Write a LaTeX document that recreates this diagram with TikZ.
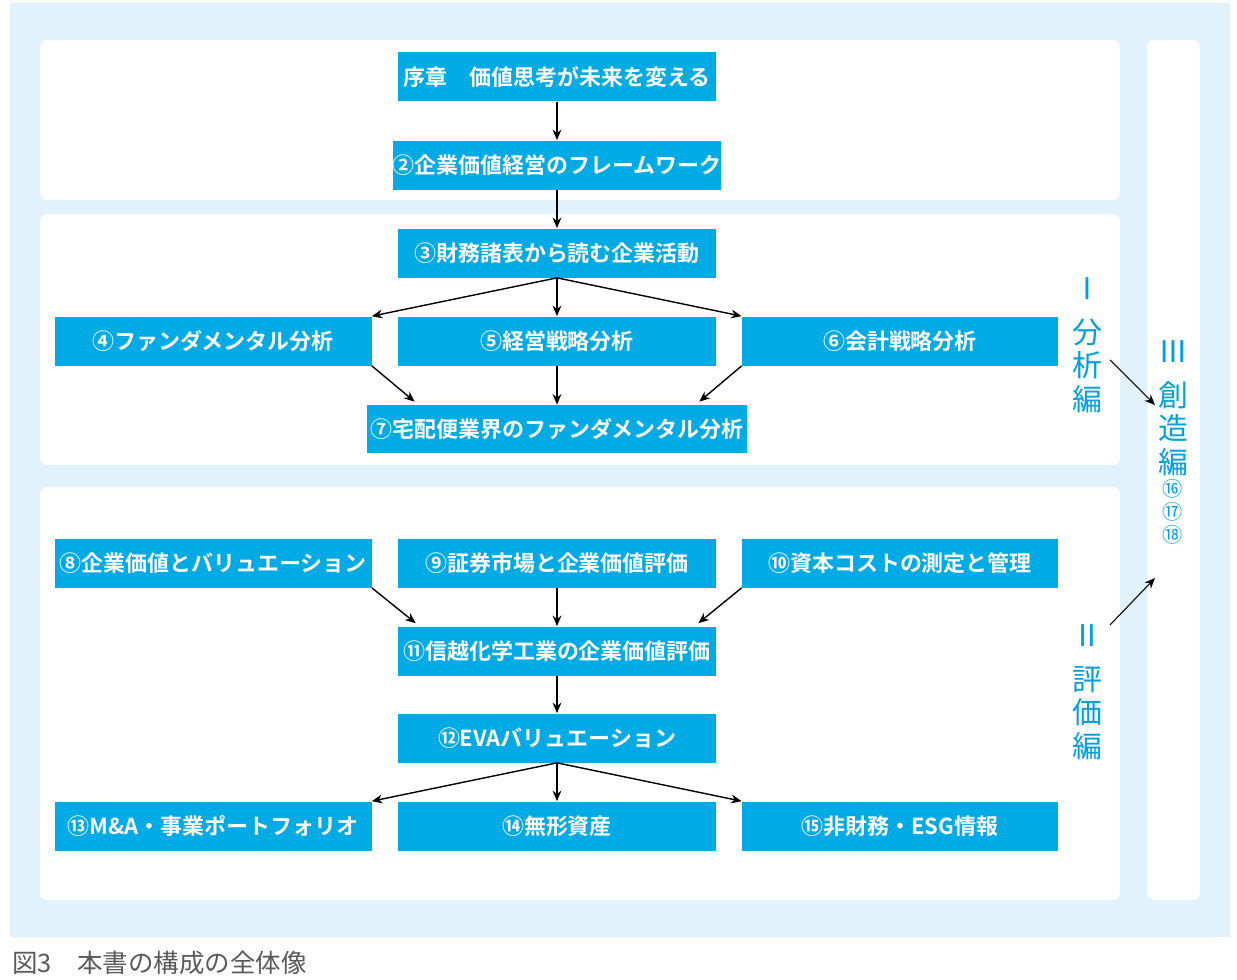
\documentclass[tikz,border=0pt]{standalone}
\usepackage{fontspec}
\setmainfont{Noto Sans CJK JP}
\newfontfamily\jpbold{Noto Sans CJK JP Bold}
\usetikzlibrary{arrows.meta, positioning, calc}
\definecolor{bgblue}{RGB}{224, 242, 251}
\definecolor{boxcyan}{RGB}{0, 170, 228}
\definecolor{labblue}{RGB}{0, 160, 220}
\definecolor{capgray}{RGB}{90, 90, 90}

\begin{document}
\begin{tikzpicture}[x=0.02cm, y=-0.02cm,
  box/.style={fill=boxcyan, text=white, font=\jpbold\fontsize{12.5}{14}\selectfont, inner sep=0pt},
  panel/.style={fill=white, rounded corners=4pt},
  arr/.style={-{Stealth[length=6pt, width=5pt]}, thick},
  vlab/.style={text=labblue, font=\fontsize{17}{19}\selectfont, align=center, inner sep=0pt}]
  \useasboundingbox (0,0) rectangle (1237,980);
  % ===== background and panels =====
  \fill[bgblue] (10,3) rectangle (1230,937);
  \fill[panel] (40,40) rectangle (1120,200);
  \fill[panel] (40,214) rectangle (1120,465);
  \fill[panel] (40,487) rectangle (1120,900);
  \fill[panel] (1147,40) rectangle (1200,900);

  % ===== chapter boxes =====
  \node[box, minimum width=318*0.02cm, minimum height=49*0.02cm] (c1) at (557,77) {序章\quad 価値思考が未来を変える};
  \node[box, minimum width=318*0.02cm, minimum height=49*0.02cm] (c2) at (557,165) {②企業価値経営のフレームワーク};
  \node[box, minimum width=318*0.02cm, minimum height=49*0.02cm] (c3) at (557,253) {③財務諸表から読む企業活動};
  \node[box, minimum width=317*0.02cm, minimum height=49*0.02cm] (c4) at (213,341) {④ファンダメンタル分析};
  \node[box, minimum width=318*0.02cm, minimum height=49*0.02cm] (c5) at (557,341) {⑤経営戦略分析};
  \node[box, minimum width=316*0.02cm, minimum height=49*0.02cm] (c6) at (900,341) {⑥会計戦略分析};
  \node[box, minimum width=380*0.02cm, minimum height=48*0.02cm] (c7) at (557,429) {⑦宅配便業界のファンダメンタル分析};
  \node[box, minimum width=317*0.02cm, minimum height=49*0.02cm] (c8) at (213,563) {⑧企業価値とバリュエーション};
  \node[box, minimum width=318*0.02cm, minimum height=49*0.02cm] (c9) at (557,563) {⑨証券市場と企業価値評価};
  \node[box, minimum width=316*0.02cm, minimum height=49*0.02cm] (c10) at (900,563) {⑩資本コストの測定と管理};
  \node[box, minimum width=318*0.02cm, minimum height=49*0.02cm] (c11) at (557,651) {⑪信越化学工業の企業価値評価};
  \node[box, minimum width=318*0.02cm, minimum height=49*0.02cm] (c12) at (557,738) {⑫EVAバリュエーション};
  \node[box, minimum width=317*0.02cm, minimum height=49*0.02cm] (c13) at (213,826) {⑬M\&A・事業ポートフォリオ};
  \node[box, minimum width=318*0.02cm, minimum height=49*0.02cm] (c14) at (557,826) {⑭無形資産};
  \node[box, minimum width=316*0.02cm, minimum height=49*0.02cm] (c15) at (900,826) {⑮非財務・ESG情報};

  % ===== connectors =====
  \draw[arr] (c1) -- (c2);
  \draw[arr] (c2) -- (c3);
  \draw[arr] (c3.south) -- (c4.north east);
  \draw[arr] (c3) -- (c5);
  \draw[arr] (c3.south) -- (c6.north west);
  \draw[arr] (c4.south east) -- ($(c7.north west)+(48,-3)$);
  \draw[arr] (c5) -- (c7);
  \draw[arr] (c6.south west) -- ($(c7.north east)+(-48,-3)$);
  \draw[arr] (c8.south east) -- ($(c11.north west)+(18,-3)$);
  \draw[arr] (c9) -- (c11);
  \draw[arr] (c10.south west) -- ($(c11.north east)+(-18,-3)$);
  \draw[arr] (c11) -- (c12);
  \draw[arr] (c12.south) -- (c13.north east);
  \draw[arr] (c12) -- (c14);
  \draw[arr] (c12.south) -- (c15.north west);

  % ===== part labels =====
  \node[vlab] (p1) at (1087,345) {Ⅰ\\[6pt]分\\析\\編};
  \node[vlab] (p2) at (1087,692) {Ⅱ\\[6pt]評\\価\\編};
  \node[vlab] (p3) at (1173,408) {Ⅲ\\[6pt]創\\造\\編};
  \node[vlab, font=\fontsize{11.5}{13}\selectfont, below=2pt of p3] (p3n) {⑯\\⑰\\⑱};
  \coordinate (a1s) at (1110,360);
  \coordinate (a1e) at (1155,405);
  \coordinate (a2s) at (1110,625);
  \coordinate (a2e) at (1155,578);
  \draw[arr, semithick] (a1s) -- (a1e);
  \draw[arr, semithick] (a2s) -- (a2e);

  % ===== caption =====
  \node[anchor=west, text=capgray, font=\fontsize{14.5}{16}\selectfont, inner sep=0pt] (cap) at (12,963) {図3\quad 本書の構成の全体像};
\end{tikzpicture}
\end{document}
